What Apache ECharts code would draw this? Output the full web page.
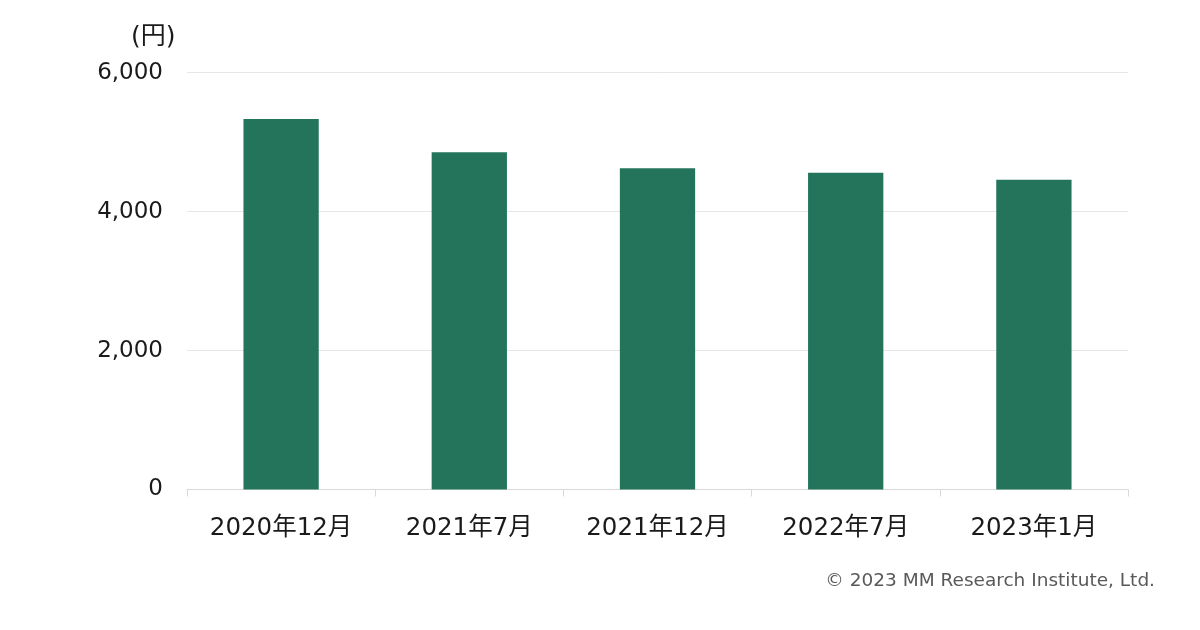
<!DOCTYPE html>
<html>
<head>
<meta charset="utf-8">
<script src="https://cdn.jsdelivr.net/npm/echarts@6/dist/echarts.min.js"></script>
<style>html,body{margin:0;padding:0;background:#fff}#c{width:1200px;height:630px}</style>
</head>
<body>
<div id="c"></div>
<script>
const categories = ['2020年12月', '2021年7月', '2021年12月', '2022年7月', '2023年1月'];
const values = [5333, 4854, 4624, 4560, 4460];
const yTicks = [0, 2000, 4000, 6000];
const unitLabel = '(円)';
const copyright = '© 2023 MM Research Institute, Ltd.';

const FONT = '"DejaVu Sans", "Noto Sans CJK JP", sans-serif';
const chart = echarts.init(document.getElementById('c'));
chart.setOption({
  animation: false,
  backgroundColor: '#ffffff',
  grid: { left: 187, right: 72, top: 72.7, bottom: 140.5, containLabel: false },
  xAxis: {
    type: 'category',
    data: categories,
    axisLine: { show: true, lineStyle: { color: '#d9d9d9', width: 1 } },
    axisTick: { show: true, length: 7, lineStyle: { color: '#d9d9d9' } },
    axisLabel: { color: '#1a1a1a', fontSize: 24.5, fontFamily: FONT, margin: 27 }
  },
  yAxis: {
    type: 'value',
    min: yTicks[0],
    max: yTicks[yTicks.length - 1],
    interval: yTicks[1] - yTicks[0],
    axisLine: { show: false },
    axisTick: { show: false },
    splitLine: { lineStyle: { color: '#e6e6e6', width: 1 } },
    axisLabel: {
      color: '#1a1a1a', fontSize: 23, fontFamily: FONT, margin: 24,
      formatter: v => v.toLocaleString('en-US')
    }
  },
  series: [{
    type: 'bar',
    data: values,
    barWidth: '40%',
    itemStyle: { color: '#23745b' }
  }],
  graphic: [
    { type: 'text', left: 131, top: 25, style: { text: unitLabel, fontSize: 25, fontFamily: FONT, fill: '#1a1a1a' } },
    { type: 'text', right: 45, top: 572, style: { text: copyright, fontSize: 18.5, fontFamily: FONT, fill: '#595959' } }
  ]
});
</script>
</body>
</html>
